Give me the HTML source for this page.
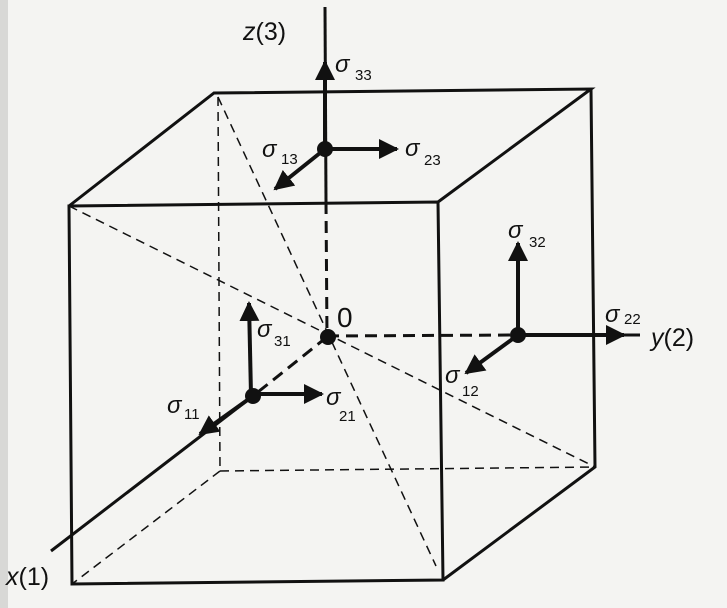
<!DOCTYPE html>
<html><head><meta charset="utf-8"><style>
html,body{margin:0;padding:0;background:#f4f4f2;overflow:hidden}
svg{display:block}
text{font-family:"Liberation Sans",sans-serif;fill:#111}
.s{font-style:italic;font-size:24px}
.b{font-size:15px}
</style></head><body>
<svg width="727" height="608" viewBox="0 0 727 608">
<rect width="727" height="608" fill="#f4f4f2"/>
<rect width="8" height="608" fill="#d8d8d6"/>
<defs><marker id="a" viewBox="0 0 10 10" refX="9" refY="5" markerWidth="5" markerHeight="5" orient="auto"><path d="M0,0L10,5L0,10z" fill="#111"/></marker></defs>
<g stroke="#111" fill="none">
<g stroke-width="1.5" stroke-dasharray="9,6">
<line x1="218" y1="97" x2="220" y2="471"/>
<line x1="220" y1="471" x2="595" y2="467"/>
<line x1="220" y1="471" x2="72" y2="584"/>
<line x1="218" y1="97" x2="436" y2="566"/>
<line x1="69" y1="206" x2="595" y2="467"/>
</g>
<g stroke-width="3" stroke-dasharray="12,7">
<line x1="326" y1="202" x2="327" y2="337"/>
<line x1="327" y1="336" x2="517" y2="335"/>
<line x1="327" y1="337" x2="253" y2="396"/>
</g>
<g stroke-width="3">
<polygon points="69,206 438,202 443,580 72,584"/>
<polyline points="69,206 214,93 591,89 438,202"/>
<polyline points="591,89 595,467 443,580"/>
</g>
<line x1="325" y1="7" x2="326" y2="202" stroke-width="3"/>
<line x1="517" y1="335" x2="640" y2="335" stroke-width="3"/>
<line x1="253" y1="396" x2="51" y2="551" stroke-width="3"/>
<g stroke-width="4" marker-end="url(#a)">
<line x1="325" y1="149" x2="325" y2="62"/>
<line x1="325" y1="149" x2="397" y2="149"/>
<line x1="325" y1="149" x2="275" y2="189"/>
<line x1="518" y1="335" x2="518" y2="243"/>
<line x1="518" y1="335" x2="624" y2="335"/>
<line x1="518" y1="335" x2="466" y2="373"/>
<line x1="251" y1="395" x2="249" y2="303"/>
<line x1="253" y1="394" x2="322" y2="394"/>
<line x1="253" y1="396" x2="200" y2="434"/>
</g>
</g>
<g fill="#111">
<circle cx="325" cy="149" r="8"/>
<circle cx="328" cy="337" r="8"/>
<circle cx="518" cy="335" r="8"/>
<circle cx="253" cy="396" r="8"/>
</g>
<text x="243" y="40" font-size="25"><tspan font-style="italic">z</tspan>(3)</text>
<text x="651" y="346" font-size="25"><tspan font-style="italic">y</tspan>(2)</text>
<text x="6" y="585" font-size="25"><tspan font-style="italic">x</tspan>(1)</text>
<text x="337" y="327" font-size="28">0</text>
<text class="s" x="335" y="72">σ</text><text class="b" x="355" y="80">33</text>
<text class="s" x="262" y="157">σ</text><text class="b" x="281" y="164">13</text>
<text class="s" x="405" y="156">σ</text><text class="b" x="424" y="165">23</text>
<text class="s" x="508" y="238">σ</text><text class="b" x="529" y="247">32</text>
<text class="s" x="605" y="322">σ</text><text class="b" x="624" y="324">22</text>
<text class="s" x="445" y="383">σ</text><text class="b" x="462" y="396">12</text>
<text class="s" x="257" y="337">σ</text><text class="b" x="274" y="346">31</text>
<text class="s" x="167" y="413">σ</text><text class="b" x="184" y="419">11</text>
<text class="s" x="326" y="405">σ</text><text class="b" x="339" y="421">21</text>
</svg>
</body></html>
